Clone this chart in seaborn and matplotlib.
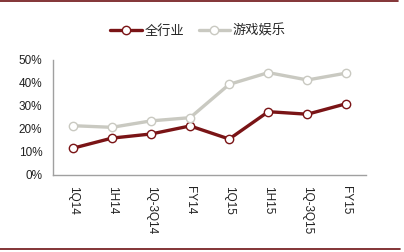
import matplotlib
matplotlib.use("Agg")
import matplotlib.pyplot as plt
import seaborn as sns
import pandas as pd
from matplotlib.lines import Line2D
from matplotlib.ticker import FuncFormatter

categories = ["1Q14", "1H14", "1Q-3Q14", "FY14", "1Q15", "1H15", "1Q-3Q15", "FY15"]
all_industry = [11.6, 16.0, 17.8, 21.3, 15.6, 27.5, 26.4, 31.0]
games = [21.4, 20.7, 23.5, 24.9, 39.4, 44.5, 41.3, 44.3]
series_names = ["全行业", "游戏娱乐"]
colors = ["#7A1416", "#C9C9C1"]

df = pd.DataFrame({
    "cat": categories * 2,
    "val": all_industry + games,
    "series": [series_names[0]] * len(categories) + [series_names[1]] * len(categories),
})

sns.set_style("white")
plt.rcParams["font.family"] = ["Liberation Sans", "DejaVu Sans"]

fig = plt.figure(figsize=(4.04, 2.52), dpi=100)
ax = fig.add_axes([0.132, 0.306, 0.774, 0.456])

sns.lineplot(data=df, x="cat", y="val", hue="series", palette=colors,
             sort=False, marker="o", markersize=6, markerfacecolor="white",
             markeredgewidth=1.0, linewidth=2.4, ax=ax, legend=False)
for line, c in zip(ax.lines, colors):
    line.set_markeredgecolor(c)

ax.set_xlim(-0.5, len(categories) - 0.5)
ax.set_ylim(0, 50)
ax.set_yticks([0, 10, 20, 30, 40, 50])
ax.yaxis.set_major_formatter(FuncFormatter(lambda v, p: f"{int(v)}%"))
ax.set_xticks(range(len(categories)))
ax.set_xticklabels(categories, rotation=270, fontsize=8.5, color="#222222")
ax.set_xticks([i - 0.5 for i in range(len(categories) + 1)], minor=True)
ax.tick_params(axis="x", which="major", length=0, pad=8)
ax.tick_params(axis="x", which="minor", direction="in", length=3, color="#A0A0A0", width=0.8)
ax.tick_params(axis="y", direction="in", length=3, color="#A0A0A0", width=0.8,
               labelsize=8.5, labelcolor="#222222", pad=8)
ax.set_xlabel("")
ax.set_ylabel("")
for s in ["top", "right"]:
    ax.spines[s].set_visible(False)
for s in ["left", "bottom"]:
    ax.spines[s].set_color("#A0A0A0")
    ax.spines[s].set_linewidth(1.0)

handles = [Line2D([], [], color=c, linewidth=2.4, marker="o", markersize=6,
                  markerfacecolor="white", markeredgecolor=c, markeredgewidth=1.0)
           for c in colors]
fig.legend(handles, series_names, loc="center", bbox_to_anchor=(0.49, 0.877), ncol=2,
           frameon=False, handlelength=2.4, handletextpad=0.2, columnspacing=1.1,
           prop={"family": ["Noto Sans CJK SC", "DejaVu Sans"], "size": 9.5})

fig.add_artist(Line2D([0, 0.985], [0.996, 0.996], transform=fig.transFigure,
                      color="#6E1214", linewidth=1.2))
fig.add_artist(Line2D([0, 0.99], [0.012, 0.012], transform=fig.transFigure,
                      color="#6E1214", linewidth=1.2))

fig.savefig("out.png", dpi=100)
